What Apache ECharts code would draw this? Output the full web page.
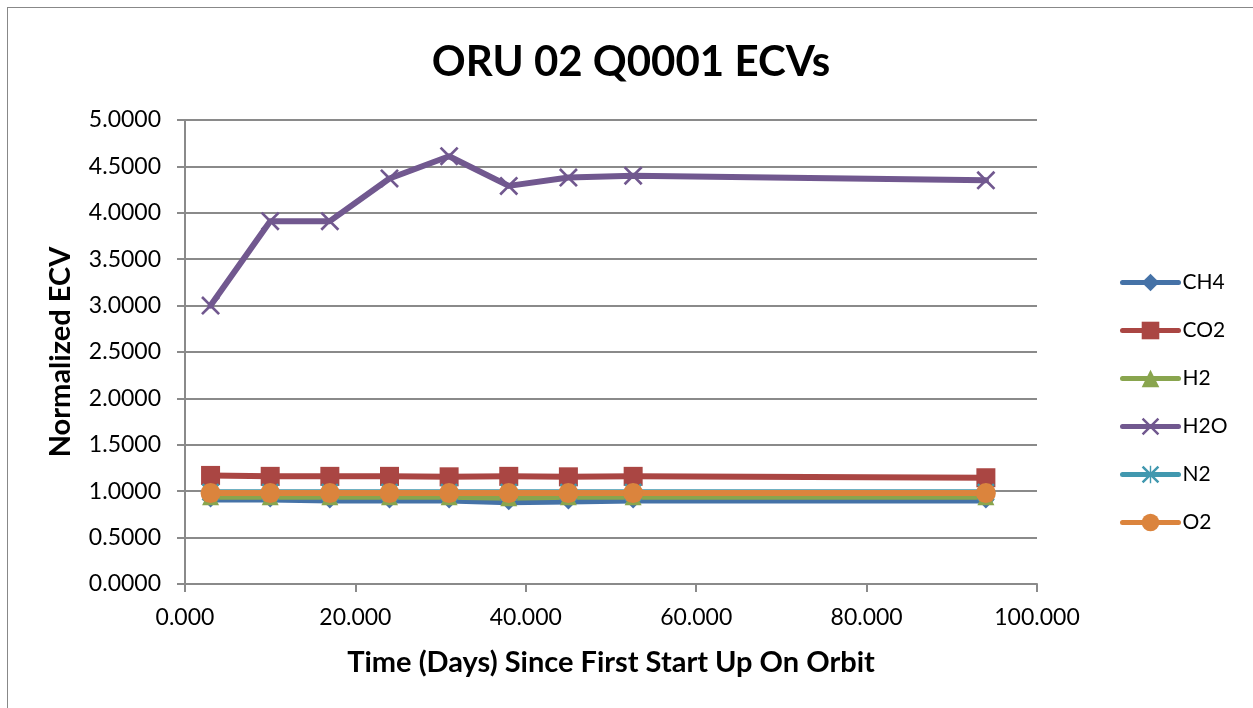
<!DOCTYPE html>
<html>
<head>
<meta charset="utf-8">
<script src="https://cdn.jsdelivr.net/npm/echarts@6/dist/echarts.min.js"></script>
<style>
  html, body { margin: 0; padding: 0; background: #fff; }
  #frame { position: absolute; left: 7px; top: 7px; width: 1260px; height: 720px; border: 1px solid #888; box-sizing: border-box; }
  #main { position: absolute; left: 0; top: 0; width: 1253px; height: 708px; }
</style>
</head>
<body>
<div id="frame"></div>
<div id="main"></div>
<script>
// days since first start up
var days = [3.0, 10.0, 17.0, 24.0, 31.0, 38.0, 45.0, 52.6, 94.0];

var ch4 = [0.91, 0.91, 0.90, 0.90, 0.90, 0.88, 0.89, 0.90, 0.90];
var co2 = [1.17, 1.16, 1.16, 1.16, 1.155, 1.16, 1.155, 1.16, 1.145];
var h2  = [0.94, 0.94, 0.94, 0.94, 0.94, 0.93, 0.94, 0.94, 0.94];
var h2o = [3.00, 3.91, 3.91, 4.37, 4.61, 4.29, 4.38, 4.40, 4.35];
var n2  = [0.99, 0.99, 0.99, 0.99, 0.99, 0.99, 0.99, 0.99, 0.99];
var o2  = [0.98, 0.98, 0.98, 0.98, 0.98, 0.98, 0.98, 0.98, 0.98];

var seriesNames = ['CH4', 'CO2', 'H2', 'H2O', 'N2', 'O2'];

var crossPath = 'path://M0,1L1,0L5,4L9,0L10,1L6,5L10,9L9,10L5,6L1,10L0,9L4,5Z';
var starPath = 'path://M0,1L1,0L4.6,3.6L4.6,0L5.4,0L5.4,3.6L9,0L10,1L6.4,4.6L10,4.6L10,5.4L6.4,5.4L10,9L9,10L5.4,6.4L5.4,10L4.6,10L4.6,6.4L1,10L0,9L3.6,5.4L0,5.4L0,4.6L3.6,4.6Z';

function pairs(vals) {
    return days.map(function (d, i) { return [d, vals[i]]; });
}

function mk(name, vals, color, symbol, size) {
    return {
        name: name,
        type: 'line',
        data: pairs(vals),
        symbol: symbol,
        symbolSize: size,
        showSymbol: true,
        lineStyle: { color: color, width: 6, cap: 'round', join: 'round' },
        itemStyle: { color: color },
        emphasis: { disabled: true },
        animation: false
    };
}

var chart = echarts.init(document.getElementById('main'));

var option = {
    textStyle: { fontFamily: 'Lato' },
    title: {
        text: 'ORU 02 Q0001 ECVs',
        left: 626,
        textAlign: 'center',
        top: 36,
        textStyle: { fontFamily: 'Lato', fontWeight: 'bold', fontSize: 42, color: '#000' }
    },
    legend: {
        orient: 'vertical',
        left: 1115,
        top: 267,
        itemGap: 27,
        itemWidth: 56,
        itemHeight: 22,
        data: seriesNames,
        lineStyle: { width: 5, cap: 'round' },
        textStyle: { fontFamily: 'Lato', fontSize: 21, color: '#000', padding: [0, 0, 0, -1] }
    },
    grid: { left: 185, right: 216, top: 120, bottom: 124, containLabel: false },
    xAxis: {
        type: 'value',
        min: 0,
        max: 100,
        interval: 20,
        name: 'Time (Days) Since First Start Up On Orbit',
        nameLocation: 'middle',
        nameGap: 64,
        nameTextStyle: { fontFamily: 'Lato', fontWeight: 700, fontSize: 29, color: '#000' },
        axisLine: { lineStyle: { color: '#8a8a8a', width: 2 } },
        axisTick: { show: true, length: 8, lineStyle: { color: '#8a8a8a', width: 2 } },
        axisLabel: {
            fontFamily: 'Lato', fontSize: 23, color: '#000', margin: 22,
            formatter: function (v) { return v.toFixed(3); }
        },
        splitLine: { show: false }
    },
    yAxis: {
        type: 'value',
        min: 0,
        max: 5,
        interval: 0.5,
        name: 'Normalized ECV',
        nameLocation: 'middle',
        nameGap: 110,
        nameTextStyle: { fontFamily: 'Lato', fontWeight: 700, fontSize: 29, color: '#000' },
        axisLine: { show: true, lineStyle: { color: '#8a8a8a', width: 2 } },
        axisTick: { show: true, length: 8, lineStyle: { color: '#8a8a8a', width: 2 } },
        axisLabel: {
            fontFamily: 'Lato', fontSize: 23, color: '#000', margin: 24,
            formatter: function (v) { return v.toFixed(4); }
        },
        splitLine: { show: true, lineStyle: { color: '#8a8a8a', width: 2 } }
    },
    series: [
        mk('CH4', ch4, '#4572A7', 'diamond', 16),
        mk('CO2', co2, '#AA4643', 'rect', 19),
        mk('H2', h2, '#89A54E', 'triangle', 17),
        mk('H2O', h2o, '#71588F', crossPath, 19),
        mk('N2', n2, '#4198AF', starPath, 18),
        mk('O2', o2, '#DB843D', 'circle', 20)
    ]
};

chart.setOption(option);
</script>
</body>
</html>
